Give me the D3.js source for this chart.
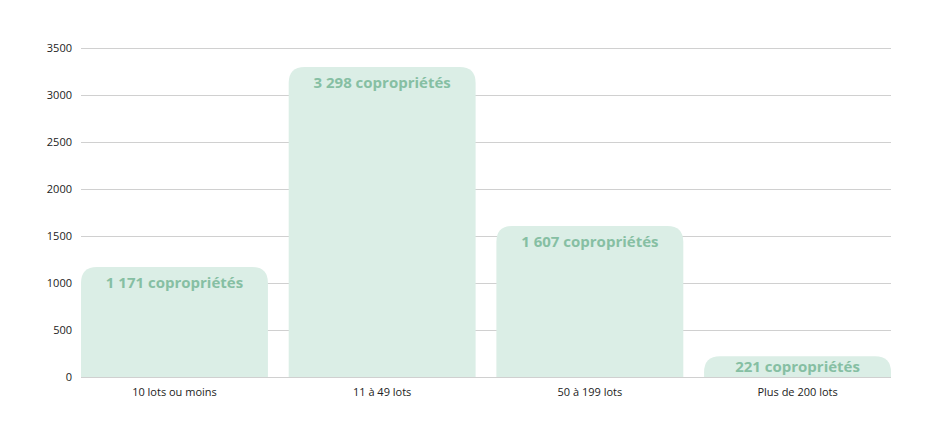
<html>
<head>
<style>
  body { margin: 0; background: #fff; font-family: "Open Sans", "DejaVu Sans", sans-serif; }
</style>
<script src="https://cdn.jsdelivr.net/npm/d3@7"></script>
</head>
<body>
<svg id="chart"></svg>
<script>
  // data
  const categories = ["10 lots ou moins", "11 à 49 lots", "50 à 199 lots", "Plus de 200 lots"];
  const values = [1171, 3298, 1607, 221];
  const barLabels = ["1 171 copropriétés", "3 298 copropriétés", "1 607 copropriétés", "221 copropriétés"];
  const yTicks = [0, 500, 1000, 1500, 2000, 2500, 3000, 3500];

  const width = 935, height = 437;
  const margin = {top: 48, right: 44, bottom: 60, left: 81};

  const svg = d3.select("#chart").attr("width", width).attr("height", height);

  const x = d3.scaleBand()
    .domain(categories)
    .range([margin.left, width - margin.right])
    .paddingInner(0.1)
    .paddingOuter(0);

  const y = d3.scaleLinear()
    .domain([0, 3500])
    .range([height - margin.bottom, margin.top]);

  // grid + y labels
  const yAxis = svg.append("g")
    .attr("transform", "translate(" + margin.left + ",0)")
    .call(d3.axisLeft(y).tickValues(yTicks).tickFormat(d3.format("d"))
      .tickSize(-(width - margin.left - margin.right)).tickPadding(9));
  yAxis.select(".domain").remove();
  yAxis.selectAll(".tick line").attr("stroke", "#d0d0d0");
  yAxis.selectAll(".tick text").attr("fill", "#222").style("font-size", "11px")
    .style("font-family", "'Open Sans', sans-serif");

  // rounded-top bars
  function barPath(x0, w, yTop, yBottom, r) {
    r = Math.min(r, yBottom - yTop, w / 2);
    return "M" + x0 + "," + yBottom +
      "V" + (yTop + r) +
      "Q" + x0 + "," + yTop + " " + (x0 + r) + "," + yTop +
      "H" + (x0 + w - r) +
      "Q" + (x0 + w) + "," + yTop + " " + (x0 + w) + "," + (yTop + r) +
      "V" + yBottom + "Z";
  }

  svg.append("g").selectAll("path")
    .data(values)
    .enter().append("path")
    .attr("d", (d, i) => barPath(x(categories[i]), x.bandwidth(), y(d), y(0), 16))
    .attr("fill", "#dbeee6");

  svg.append("g").selectAll("text")
    .data(values)
    .enter().append("text")
    .attr("x", (d, i) => x(categories[i]) + x.bandwidth() / 2)
    .attr("y", d => Math.min(y(d) + 21, y(0) - 5))
    .attr("text-anchor", "middle")
    .attr("fill", "#86bfa3")
    .style("font-family", "'Open Sans', sans-serif")
    .style("font-weight", "bold")
    .style("font-size", "15px")
    .text((d, i) => barLabels[i]);

  // x labels
  const xAxis = svg.append("g")
    .attr("transform", "translate(0," + y(0) + ")")
    .call(d3.axisBottom(x).tickSize(0).tickPadding(11));
  xAxis.select(".domain").remove();
  xAxis.selectAll(".tick text").attr("fill", "#222").style("font-size", "11px")
    .style("font-family", "'Open Sans', sans-serif");
</script>
</body>
</html>
